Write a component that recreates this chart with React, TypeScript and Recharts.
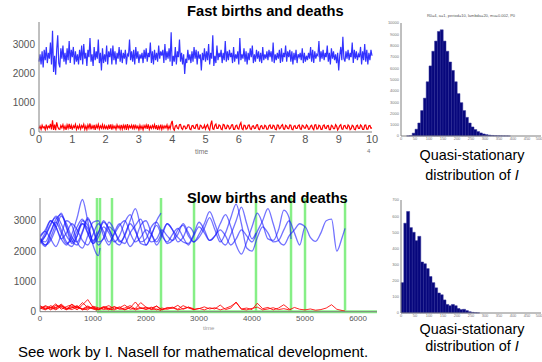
import React from 'react';
import { LineChart, Line, XAxis, YAxis, BarChart, Bar, ReferenceLine } from 'recharts';

// fast births and deaths: infected (blue) and red series, sampled evenly on 0..10
const fastBlue = [
  2400, 2650, 2300, 2750, 2200, 2800, 2450, 2900, 2350, 2700,
  2500, 3050, 2300, 3450, 2050, 2600, 1950, 2800, 3300, 2350,
  2200, 2850, 2500, 2950, 2400, 2700, 2300, 2850, 2450, 3100,
  2350, 2800, 2550, 2900, 2300, 2750, 2400, 2650, 2300, 2800,
  2450, 2950, 2300, 3000, 2500, 2700, 2250, 2800, 2550, 3200,
  2400, 2650, 2250, 2900, 2450, 2750, 2500, 3150, 2350, 2700,
  2100, 2850, 2350, 2650, 2400, 2950, 2300, 2750, 2550, 2850,
  2300, 2950, 2450, 2750, 2300, 2700, 2500, 2900, 2400, 2800,
  2350, 2700, 2500, 2800, 2300, 2650, 2600, 3150, 2450, 2750,
  2400, 2800, 2300, 2900, 2500, 2750, 2350, 2650, 2500, 2700,
  2350, 2800, 2500, 2850, 2400, 2700, 2550, 3050, 2350, 2750,
  2300, 2800, 2450, 2700, 2400, 2950, 2500, 2750, 2600, 2800,
  2350, 3000, 2450, 2750, 2500, 2850, 2400, 3400, 2250, 2600,
  2400, 2900, 2300, 2750, 2550, 3150, 2400, 2700, 2300, 2650,
  1980, 2500, 2350, 2800, 2450, 2650, 2350, 2750, 2400, 2900,
  2500, 2800, 2300, 2750, 2500, 2650, 2100, 2700, 2450, 2850,
  2400, 2750, 2450, 3000, 2300, 2700, 2500, 3300, 2250, 2600,
  2350, 2950, 2450, 2700, 2550, 2800, 2350, 2700, 2450, 3100,
  2400, 2750, 2450, 2800, 2550, 2700, 2350, 2900, 2400, 2650,
  2500, 2750, 2300, 3200, 2450, 2650, 2500, 2850, 2400, 2750,
  2300, 2700, 2450, 2850, 2550, 2950, 2350, 2650, 2400, 2800,
  2500, 2750, 2400, 2700, 2350, 2900, 2450, 2650, 2500, 2750,
  2450, 2800, 2550, 2750, 2400, 3050, 2350, 2650, 2450, 2700,
  2500, 2800, 2350, 2850, 2400, 2700, 2550, 2950, 2400, 2750,
  2550, 2800, 2400, 2750, 2300, 2700, 2450, 2800, 2350, 2650,
  2550, 2700, 2450, 2850, 2350, 2700, 2400, 2600, 2450, 2700,
  2500, 2900, 2400, 2800, 2350, 2750, 2500, 2650, 2600, 3100,
  2400, 2750, 2500, 2800, 2450, 2700, 2550, 2950, 2400, 2700,
  2300, 2850, 2500, 2750, 2450, 2650, 2350, 2700, 2100, 2600,
  2900, 2450, 3250, 2500, 2400, 2750, 2500, 2800, 2450, 2700,
  2550, 3050, 2350, 2800, 2500, 2750, 2450, 2650, 2550, 2900,
  2300, 2750, 2450, 3000, 2400, 2800, 2300, 2700, 2450, 2800,
  2600,
];
const fastRed = [
  120, 200, 90, 230, 140, 180, 80, 250, 110, 200,
  150, 280, 90, 400, 70, 250, 60, 330, 180, 100,
  90, 220, 140, 250, 100, 200, 70, 240, 130, 280,
  110, 230, 80, 210, 150, 260, 90, 200, 120, 240,
  100, 220, 150, 260, 90, 200, 80, 240, 130, 290,
  90, 210, 120, 240, 70, 230, 140, 260, 100, 210,
  130, 250, 90, 220, 120, 200, 80, 250, 110, 260,
  80, 220, 130, 200, 90, 240, 140, 210, 100, 240,
  100, 230, 120, 250, 70, 270, 110, 210, 140, 230,
  90, 250, 120, 220, 130, 200, 80, 230, 110, 200,
  80, 220, 140, 240, 110, 260, 90, 200, 120, 220,
  130, 250, 100, 230, 70, 200, 110, 250, 90, 210,
  120, 210, 140, 240, 90, 200, 110, 280, 380, 120,
  60, 200, 230, 130, 110, 250, 260, 120, 90, 200,
  200, 110, 130, 240, 240, 100, 80, 210, 220, 130,
  120, 240, 260, 100, 90, 230, 210, 120, 140, 230,
  100, 200, 250, 120, 70, 260, 390, 110, 90, 230,
  270, 120, 120, 240, 220, 100, 80, 260, 240, 110,
  110, 230, 210, 100, 130, 240, 250, 90, 90, 210,
  230, 120, 100, 250, 320, 110, 80, 230, 220, 100,
  120, 230, 240, 110, 90, 200, 210, 120, 130, 240,
  250, 100, 80, 200, 220, 110, 110, 230, 200, 90,
  100, 220, 240, 130, 120, 230, 210, 90, 80, 240,
  230, 110, 130, 220, 250, 100, 90, 230, 200, 120,
  110, 240, 230, 90, 80, 200, 220, 120, 120, 220,
  240, 110, 90, 230, 210, 130, 130, 240, 200, 90,
  100, 200, 230, 120, 80, 240, 250, 100, 110, 230,
  210, 90, 90, 220, 240, 130, 120, 210, 220, 80,
  80, 230, 200, 110, 110, 250, 200, 70, 130, 220,
  250, 100, 90, 210, 220, 130, 110, 240, 200, 80,
  110, 230, 200, 90, 80, 210, 230, 120, 120, 240,
  200, 90, 90, 230, 240, 100, 100, 210, 220, 130,
  140,
];
const fastTicks = [0, 1, 2, 3, 4, 5, 6, 7, 8, 9, 10];
const countTicks = [0, 1000, 2000, 3000];

// slow births and deaths: paths sampled every 100 time units until extinction
const slowTicks = [0, 1000, 2000, 3000, 4000, 5000, 6000];
const extinctionTimes = [1075, 1132, 1358, 2283, 2906, 4075, 4736, 5000, 5755];
const slowBlueA = [2350, 2150, 2600, 3050, 3200, 2750, 2250, 2500, 3000, 2850, 2300, 2650];
const slowBlueB = [2450, 2700, 3000, 2800, 2400, 2200, 2550, 3100, 3700, 3000, 2200, 1850, 2100];
const slowBlueC = [2300, 2500, 2850, 3150, 2900, 2500, 2300, 2650, 2900, 2600, 2250, 2600, 3000, 2700, 2500];
const slowBlueD = [
  2400, 2200, 2450, 2900, 3250, 2800, 2350, 2200, 2600, 3100,
  2700, 2200, 2450, 2950, 2700, 2300, 2500, 3000, 3400, 2800,
  2200, 2500, 3000, 3250,
];
const slowBlueE = [
  2500, 2650, 2400, 2150, 2550, 3000, 2850, 2300, 2100, 2500,
  2950, 3000, 2500, 2200, 2600, 2900, 2500, 2150, 2400, 2850,
  3000, 2600, 2200, 2500, 2900, 2700, 2300, 2450, 2800, 2600,
  2550,
];
const slowBlueF = [
  2250, 2500, 2900, 3100, 2700, 2300, 2150, 2500, 2900, 2750,
  2350, 2600, 2950, 2750, 2350, 2200, 2550, 2900, 2650, 2300,
  2400, 2800, 2950, 2600, 2250, 2350, 2700, 2850, 2500, 2300,
  2550, 2900, 3300, 2900, 2400, 2200, 2550, 3000, 3450, 2900,
  2400, 2600,
];
const slowBlueG = [
  2400, 2300, 2650, 2950, 2600, 2250, 2400, 2800, 3050, 2600,
  2250, 2450, 2800, 2600, 2300, 2500, 2950, 3200, 2700, 2250,
  2200, 2550, 2850, 2500, 2300, 2550, 2750, 2450, 2200, 2500,
  2800, 2600, 2350, 2500, 2900, 3200, 2800, 2200, 1900, 2300,
  2800, 3250, 2900, 2400, 2350, 2700, 3350, 3100, 2400,
];
const slowBlueH = [
  2300, 2600, 3000, 2800, 2400, 2600, 2900, 2700, 2350, 2200,
  2550, 2900, 2650, 2300, 2550, 2850, 3000, 2600, 2300, 2450,
  2700, 2550, 2300, 2600, 2900, 2700, 2450, 2300, 2250, 2550,
  2950, 2700, 2350, 2500, 2700, 2500, 2200, 2400, 2700, 2500,
  2300, 2650, 3000, 3400, 2900, 2350, 2200, 2500, 2700, 2900,
  2800,
];
const slowBlueI = [
  2450, 2200, 2350, 2750, 3150, 2900, 2450, 2300, 2650, 3050,
  2750, 2300, 2400, 2800, 2650, 2350, 2250, 2600, 2850, 3050,
  2600, 2300, 2400, 2700, 2500, 2350, 2550, 2900, 2600, 2300,
  2450, 2750, 3100, 2700, 2300, 2600, 3100, 3550, 2900, 2100,
  2000, 2450, 2800, 2600, 2300, 2350, 2700, 3000, 2600, 2200,
  2800, 2450, 2320, 2600, 3000, 3050, 2000, 2450, 2750,
];
const slowBlue = [slowBlueA, slowBlueB, slowBlueC, slowBlueD, slowBlueE, slowBlueF, slowBlueG, slowBlueH, slowBlueI];

const redEnds = [1075, 1358, 2283, 2906, 4736, 5755];
const slowRedA = [90, 200, 130, 260, 80, 170, 230, 110, 300, 140, 90, 50];
const slowRedB = [150, 80, 200, 120, 250, 100, 180, 60, 220, 400, 150, 90, 170, 110, 60];
const slowRedC = [
  180, 120, 90, 210, 140, 60, 250, 130, 90, 190,
  100, 70, 150, 90, 60, 130, 220, 80, 110, 300,
  150, 70, 90, 40,
];
const slowRedD = [
  100, 180, 60, 150, 220, 90, 130, 200, 70, 160,
  120, 60, 140, 200, 90, 160, 60, 130, 320, 100,
  150, 80, 190, 60, 140, 110, 210, 80, 150, 100,
  60,
];
const slowRedE = [
  200, 90, 140, 60, 180, 120, 70, 150, 100, 60,
  180, 130, 70, 110, 160, 80, 120, 200, 90, 140,
  70, 120, 180, 60, 110, 150, 80, 200, 120, 70,
  100, 160, 90, 130, 60, 110, 180, 300, 90, 120,
  70, 280, 100, 140, 60, 120, 230, 90, 60,
];
const slowRedF = [
  120, 60, 150, 90, 200, 70, 130, 180, 60, 110,
  150, 80, 120, 60, 170, 100, 70, 140, 60, 110,
  90, 150, 60, 120, 80, 130, 60, 100, 150, 70,
  110, 60, 130, 90, 220, 70, 120, 320, 80, 60,
  110, 150, 60, 90, 130, 70, 100, 60, 140, 80,
  60, 90, 50, 70, 120, 230, 80, 40, 20,
];
const slowRed = [slowRedA, slowRedB, slowRedC, slowRedD, slowRedE, slowRedF];

// quasi-stationary distributions
const histTicks = [0, 50, 100, 150, 200, 250, 300, 350, 400, 450, 500];
const topHistBins = [
  25, 35, 45, 55, 65, 75, 85, 95, 105, 115, 125, 135, 145, 155, 165, 175, 185, 195, 205,
  215, 225, 235, 245, 255, 265, 275, 285, 295, 305, 315, 325, 335, 345, 355, 365, 375, 385,
];
const topHistCounts = [
  8, 30, 250, 600, 1150, 2250, 3350, 4800, 6200, 7500, 8400, 9250, 9400, 8400, 7500, 6550, 5800, 4800, 3750,
  2950, 2250, 1650, 1150, 800, 570, 390, 270, 180, 120, 80, 50, 30, 20, 15, 10, 8, 5,
];
const topHistTicks = [0, 1000, 2000, 3000, 4000, 5000, 6000, 7000, 8000, 9000, 10000];
const bottomHistBins = [
  5, 15, 25, 35, 45, 55, 65, 75, 85, 95, 105, 115, 125, 135,
  145, 155, 165, 175, 185, 195, 205, 215, 225, 235, 245, 255, 265, 275,
];
const bottomHistCounts = [
  188, 556, 629, 529, 500, 448, 475, 316, 305, 275, 226, 188, 156, 124,
  113, 81, 53, 45, 53, 45, 28, 21, 23, 15, 8, 4, 2, 1,
];
const bottomHistTicks = [0, 100, 200, 300, 400, 500, 600, 700];

const fastData = fastBlue.map((v, i) => ({
  t: (i * 10) / (fastBlue.length - 1),
  blue: v,
  red: fastRed[i] ?? 0,
}));

const toPath = (vals: number[], end: number) =>
  vals.map((v, i) => ({ t: i === vals.length - 1 ? end : i * 100, v }));

const topHist = topHistBins.map((x, i) => ({ x, n: topHistCounts[i] }));
const bottomHist = bottomHistBins.map((x, i) => ({ x, n: bottomHistCounts[i] }));

const AXIS = '#808080';
const GREEN = '#86ef86';
const NAVY = '#07077c';
const tickStyle = { fontSize: 10, fill: '#555' };
const tinyTick = { fontSize: 4, fill: '#777' };

const abs = (left: number, top: number): React.CSSProperties => ({ position: 'absolute', left, top });

const Histogram = ({ data, yTicks, yMax }: { data: { x: number; n: number }[]; yTicks: number[]; yMax: number }) => (
  <BarChart width={162} height={146} data={data} margin={{ top: 23, right: 1, bottom: 2, left: 0 }} barCategoryGap={0}>
    <XAxis
      type="number"
      dataKey="x"
      domain={[0, 500]}
      ticks={histTicks}
      height={8}
      stroke={AXIS}
      tickSize={0}
      tickMargin={1}
      tick={tinyTick}
    />
    <XAxis xAxisId="top" orientation="top" type="number" domain={[0, 500]} ticks={histTicks} height={0} stroke={AXIS} tick={false} tickSize={0} />
    <YAxis
      domain={[0, yMax]}
      ticks={yTicks}
      width={21}
      stroke={AXIS}
      tickSize={0}
      tickMargin={2}
      tick={tinyTick}
    />
    <YAxis yAxisId="right" orientation="right" domain={[0, yMax]} ticks={yTicks} width={0} stroke={AXIS} tick={false} tickSize={0} />
    <Bar dataKey="n" fill={NAVY} stroke="#34349a" strokeWidth={0.5} isAnimationActive={false} />
  </BarChart>
);

export default function App() {
  return (
    <div
      style={{
        position: 'absolute',
        left: 0,
        top: 0,
        width: 542,
        height: 362,
        background: '#fff',
        overflow: 'hidden',
        fontFamily: 'Arial, "Liberation Sans", sans-serif',
      }}
    >
      {/* fast births and deaths */}
      <div style={abs(0, 0)}>
        <LineChart width={380} height={160} data={fastData} margin={{ top: 22, right: 8, bottom: 8, left: 0 }}>
          <XAxis
            type="number"
            dataKey="t"
            domain={[0, 10]}
            ticks={fastTicks}
            height={20}
            stroke={AXIS}
            tickSize={0}
            tickMargin={3}
            tick={{ fontSize: 11, fill: '#555' }}
          />
          <YAxis domain={[0, 3750]} ticks={countTicks} width={39} stroke={AXIS} tickSize={0} tickMargin={4} tick={tickStyle} />
          <Line type="linear" dataKey="red" stroke="#ff0000" strokeWidth={1.2} dot={false} isAnimationActive={false} />
          <Line type="linear" dataKey="blue" stroke="#0000ff" strokeOpacity={0.8} strokeWidth={1.2} dot={false} isAnimationActive={false} />
        </LineChart>
      </div>
      <div style={{ ...abs(187, 4), fontSize: 14.7, fontWeight: 'bold', lineHeight: 1 }}>Fast births and deaths</div>
      <div style={{ ...abs(195, 148), fontSize: 7, color: '#777', lineHeight: 1 }}>time</div>
      <div style={{ ...abs(367, 148), fontSize: 6, color: '#777', lineHeight: 1 }}>4</div>

      {/* slow births and deaths */}
      <div style={abs(0, 176)}>
        <LineChart width={385} height={160} margin={{ top: 22, right: 8, bottom: 4.3, left: 0 }}>
          <XAxis
            type="number"
            dataKey="t"
            domain={[0, 6358]}
            ticks={slowTicks}
            allowDataOverflow
            height={20}
            stroke={AXIS}
            tickSize={0}
            tickMargin={4}
            tick={{ fontSize: 8, fill: '#555' }}
          />
          <YAxis domain={[0, 3750]} ticks={countTicks} width={40} stroke={AXIS} tickSize={0} tickMargin={4} tick={tickStyle} />
          {extinctionTimes.map((x) => (
            <ReferenceLine key={`ext-${x}`} x={x} stroke={GREEN} strokeWidth={2.5} />
          ))}
          <ReferenceLine
            segment={[
              { x: extinctionTimes[0], y: 0 },
              { x: 6358, y: 0 },
            ]}
            stroke={GREEN}
            strokeWidth={3}
          />
          {slowRed.map((vals, k) => (
            <Line
              key={`r-${k}`}
              data={toPath(vals, redEnds[k])}
              dataKey="v"
              type="linear"
              stroke="#ff0000"
              strokeOpacity={0.85}
              strokeWidth={1}
              dot={false}
              isAnimationActive={false}
            />
          ))}
          {slowBlue.map((vals, k) => (
            <Line
              key={`b-${k}`}
              data={toPath(vals, extinctionTimes[k])}
              dataKey="v"
              type="monotone"
              stroke="#1515ff"
              strokeOpacity={0.6}
              strokeWidth={1.3}
              dot={false}
              isAnimationActive={false}
            />
          ))}
        </LineChart>
      </div>
      <div style={{ ...abs(187, 190.5), fontSize: 14.7, fontWeight: 'bold', lineHeight: 1 }}>Slow births and deaths</div>
      <div style={{ ...abs(203, 325), fontSize: 6, color: '#999', lineHeight: 1 }}>time</div>

      {/* quasi-stationary distributions */}
      <div style={abs(380, 0)}>
        <Histogram data={topHist} yTicks={topHistTicks} yMax={10000} />
      </div>
      <div style={{ ...abs(401, 14), width: 140, textAlign: 'center', fontSize: 4, color: '#555', lineHeight: 1 }}>
        R0=4, a=1, period=10, lambda=20, mu=0.002, P0
      </div>
      <div style={abs(380, 177)}>
        <Histogram data={bottomHist} yTicks={bottomHistTicks} yMax={700} />
      </div>

      <div style={{ ...abs(402, 145), width: 140, textAlign: 'center', fontSize: 14.4, lineHeight: '20px' }}>
        Quasi-stationary
        <br />
        distribution of <i>I</i>
      </div>
      <div style={{ ...abs(402, 321), width: 140, textAlign: 'center', fontSize: 14.4, lineHeight: '17px' }}>
        Quasi-stationary
        <br />
        distribution of <i>I</i>
      </div>

      <div style={{ ...abs(18, 344), fontSize: 15, lineHeight: 1 }}>
        See work by I. Nasell for mathematical development.
      </div>
    </div>
  );
}
